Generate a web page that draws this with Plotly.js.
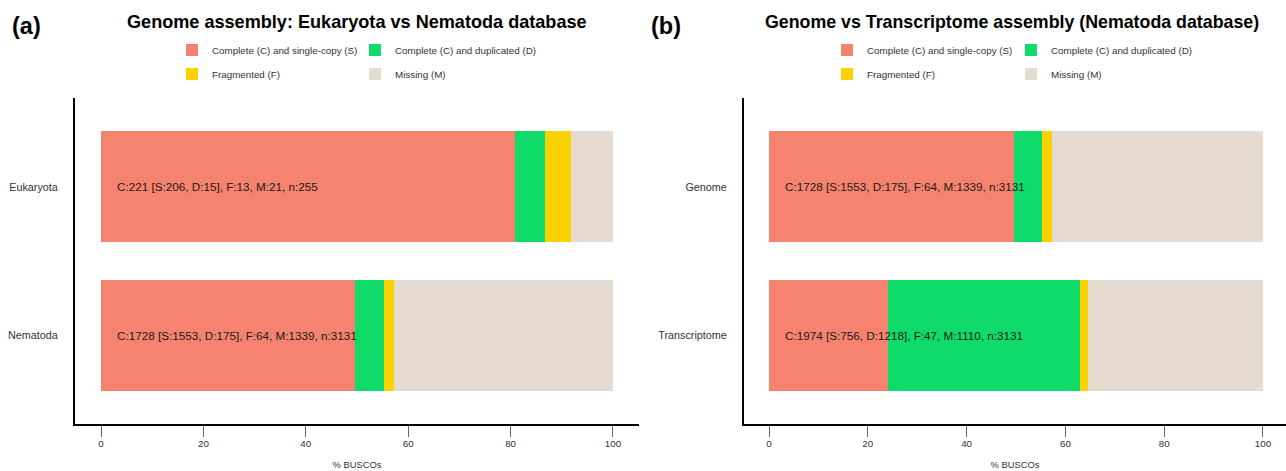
<!DOCTYPE html>
<html>
<head>
<meta charset="utf-8">
<script src="https://cdn.plot.ly/plotly-3.0.1.min.js"></script>
<style>html,body{margin:0;padding:0;background:#fff;}#chart{width:1286px;height:471px;}</style>
</head>
<body>
<div id="chart"></div>
<script>
// ---- data (percent of BUSCOs) ----
const categoriesA = ['Eukaryota', 'Nematoda'];
const categoriesB = ['Genome', 'Transcriptome'];
const seriesNames = ['Complete (C) and single-copy (S)', 'Complete (C) and duplicated (D)', 'Fragmented (F)', 'Missing (M)'];
const singleA = [80.78, 49.60];
const dupA    = [5.88, 5.59];
const fragA   = [5.10, 2.04];
const missA   = [8.24, 42.77];
const singleB = [49.60, 24.15];
const dupB    = [5.59, 38.90];
const fragB   = [2.04, 1.50];
const missB   = [42.77, 35.45];
const labelsA = ['C:221 [S:206, D:15], F:13, M:21, n:255', 'C:1728 [S:1553, D:175], F:64, M:1339, n:3131'];
const labelsB = ['C:1728 [S:1553, D:175], F:64, M:1339, n:3131', 'C:1974 [S:756, D:1218], F:47, M:1110, n:3131'];
const xTicks = [0, 20, 40, 60, 80, 100];

// ---- styling ----
const colors = ['#F5836F', '#0FDB6B', '#F9D200', '#E6DBD0'];
const FONT = 'Liberation Sans, Arial, Helvetica, sans-serif';
const W = 1286, H = 471;
const px = v => v / W;
const py = v => 1 - v / H;

const seriesA = [singleA, dupA, fragA, missA];
const seriesB = [singleB, dupB, fragB, missB];

const traces = [];
seriesA.forEach((vals, i) => {
  traces.push({
    type: 'bar', orientation: 'h', name: seriesNames[i],
    x: vals, y: categoriesA, xaxis: 'x', yaxis: 'y',
    width: 0.75, marker: {color: colors[i], line: {width: 0}},
    legend: i === 0 ? 'legend' : 'legend' + (i + 1), hoverinfo: 'x+name'
  });
});
seriesB.forEach((vals, i) => {
  traces.push({
    type: 'bar', orientation: 'h', name: seriesNames[i],
    x: vals, y: categoriesB, xaxis: 'x2', yaxis: 'y2',
    width: 0.75, marker: {color: colors[i], line: {width: 0}},
    legend: 'legend' + (i + 5), hoverinfo: 'x+name'
  });
});

const legendPos = [
  [172, 50], [355, 50], [172, 74], [355, 74],
  [827, 50], [1011, 50], [827, 74], [1011, 74]
];
const legendStyle = (p) => ({
  x: px(p[0]), y: py(p[1]), xanchor: 'left', yanchor: 'middle',
  bgcolor: 'rgba(0,0,0,0)', borderwidth: 0,
  font: {family: FONT, size: 9.8, color: '#333'},
  orientation: 'v'
});

const xCommon = {
  tickvals: xTicks, ticktext: xTicks.map(String),
  showgrid: false, zeroline: false,
  showline: true, linecolor: '#000', linewidth: 2,
  ticks: 'outside', ticklen: 11, tickwidth: 1, tickcolor: '#666',
  ticklabelstandoff: -2,
  tickfont: {family: FONT, size: 9.8, color: '#333'},
  title: {text: '% BUSCOs', font: {family: FONT, size: 9.4, color: '#333'}, standoff: 14},
  fixedrange: true
};
const yCommon = {
  type: 'category', range: [1.6, -0.6],
  showgrid: false, zeroline: false,
  showline: true, linecolor: '#000', linewidth: 2,
  ticks: '', ticklabelstandoff: 13,
  tickfont: {family: FONT, size: 10.8, color: '#333'},
  domain: [py(424), py(98)], fixedrange: true
};

const layout = {
  width: W, height: H,
  margin: {l: 0, r: 0, t: 0, b: 0},
  paper_bgcolor: '#fff', plot_bgcolor: '#fff',
  barmode: 'stack', showlegend: true,
  font: {family: FONT},
  xaxis: Object.assign({}, xCommon, {domain: [px(75), px(639)], range: [-5.08, 105.08], anchor: 'y'}),
  yaxis: Object.assign({}, yCommon, {anchor: 'x', categoryarray: categoriesA, categoryorder: 'array'}),
  xaxis2: Object.assign({}, xCommon, {domain: [px(744), 1], range: [-5.06, 104.66], anchor: 'y2'}),
  yaxis2: Object.assign({}, yCommon, {anchor: 'x2', categoryarray: categoriesB, categoryorder: 'array'}),
  annotations: [
    {text: '<b>(a)</b>', xref: 'paper', yref: 'paper', x: px(10), y: py(26), xanchor: 'left', yanchor: 'middle', showarrow: false, font: {family: FONT, size: 23.5, color: '#000'}},
    {text: '<b>Genome assembly: Eukaryota vs Nematoda database</b>', xref: 'paper', yref: 'paper', x: px(357), y: py(22), xanchor: 'center', yanchor: 'middle', showarrow: false, font: {family: FONT, size: 18.1, color: '#000'}},
    {text: '<b>(b)</b>', xref: 'paper', yref: 'paper', x: px(649), y: py(26), xanchor: 'left', yanchor: 'middle', showarrow: false, font: {family: FONT, size: 23.5, color: '#000'}},
    {text: '<b>Genome vs Transcriptome assembly (Nematoda database)</b>', xref: 'paper', yref: 'paper', x: px(1012), y: py(22), xanchor: 'center', yanchor: 'middle', showarrow: false, font: {family: FONT, size: 17.8, color: '#000'}}
  ]
};
categoriesA.forEach((c, i) => layout.annotations.push({
  text: labelsA[i], xref: 'x', yref: 'y', x: 2.8, y: c, xanchor: 'left', yanchor: 'middle',
  showarrow: false, font: {family: FONT, size: 11.7, color: '#1a1a1a'}
}));
categoriesB.forEach((c, i) => layout.annotations.push({
  text: labelsB[i], xref: 'x2', yref: 'y2', x: 2.8, y: c, xanchor: 'left', yanchor: 'middle',
  showarrow: false, font: {family: FONT, size: 11.7, color: '#1a1a1a'}
}));
legendPos.forEach((p, i) => {
  layout[i === 0 ? 'legend' : 'legend' + (i + 1)] = legendStyle(p);
});

Plotly.newPlot('chart', traces, layout, {displayModeBar: false, staticPlot: true});
</script>
</body>
</html>
